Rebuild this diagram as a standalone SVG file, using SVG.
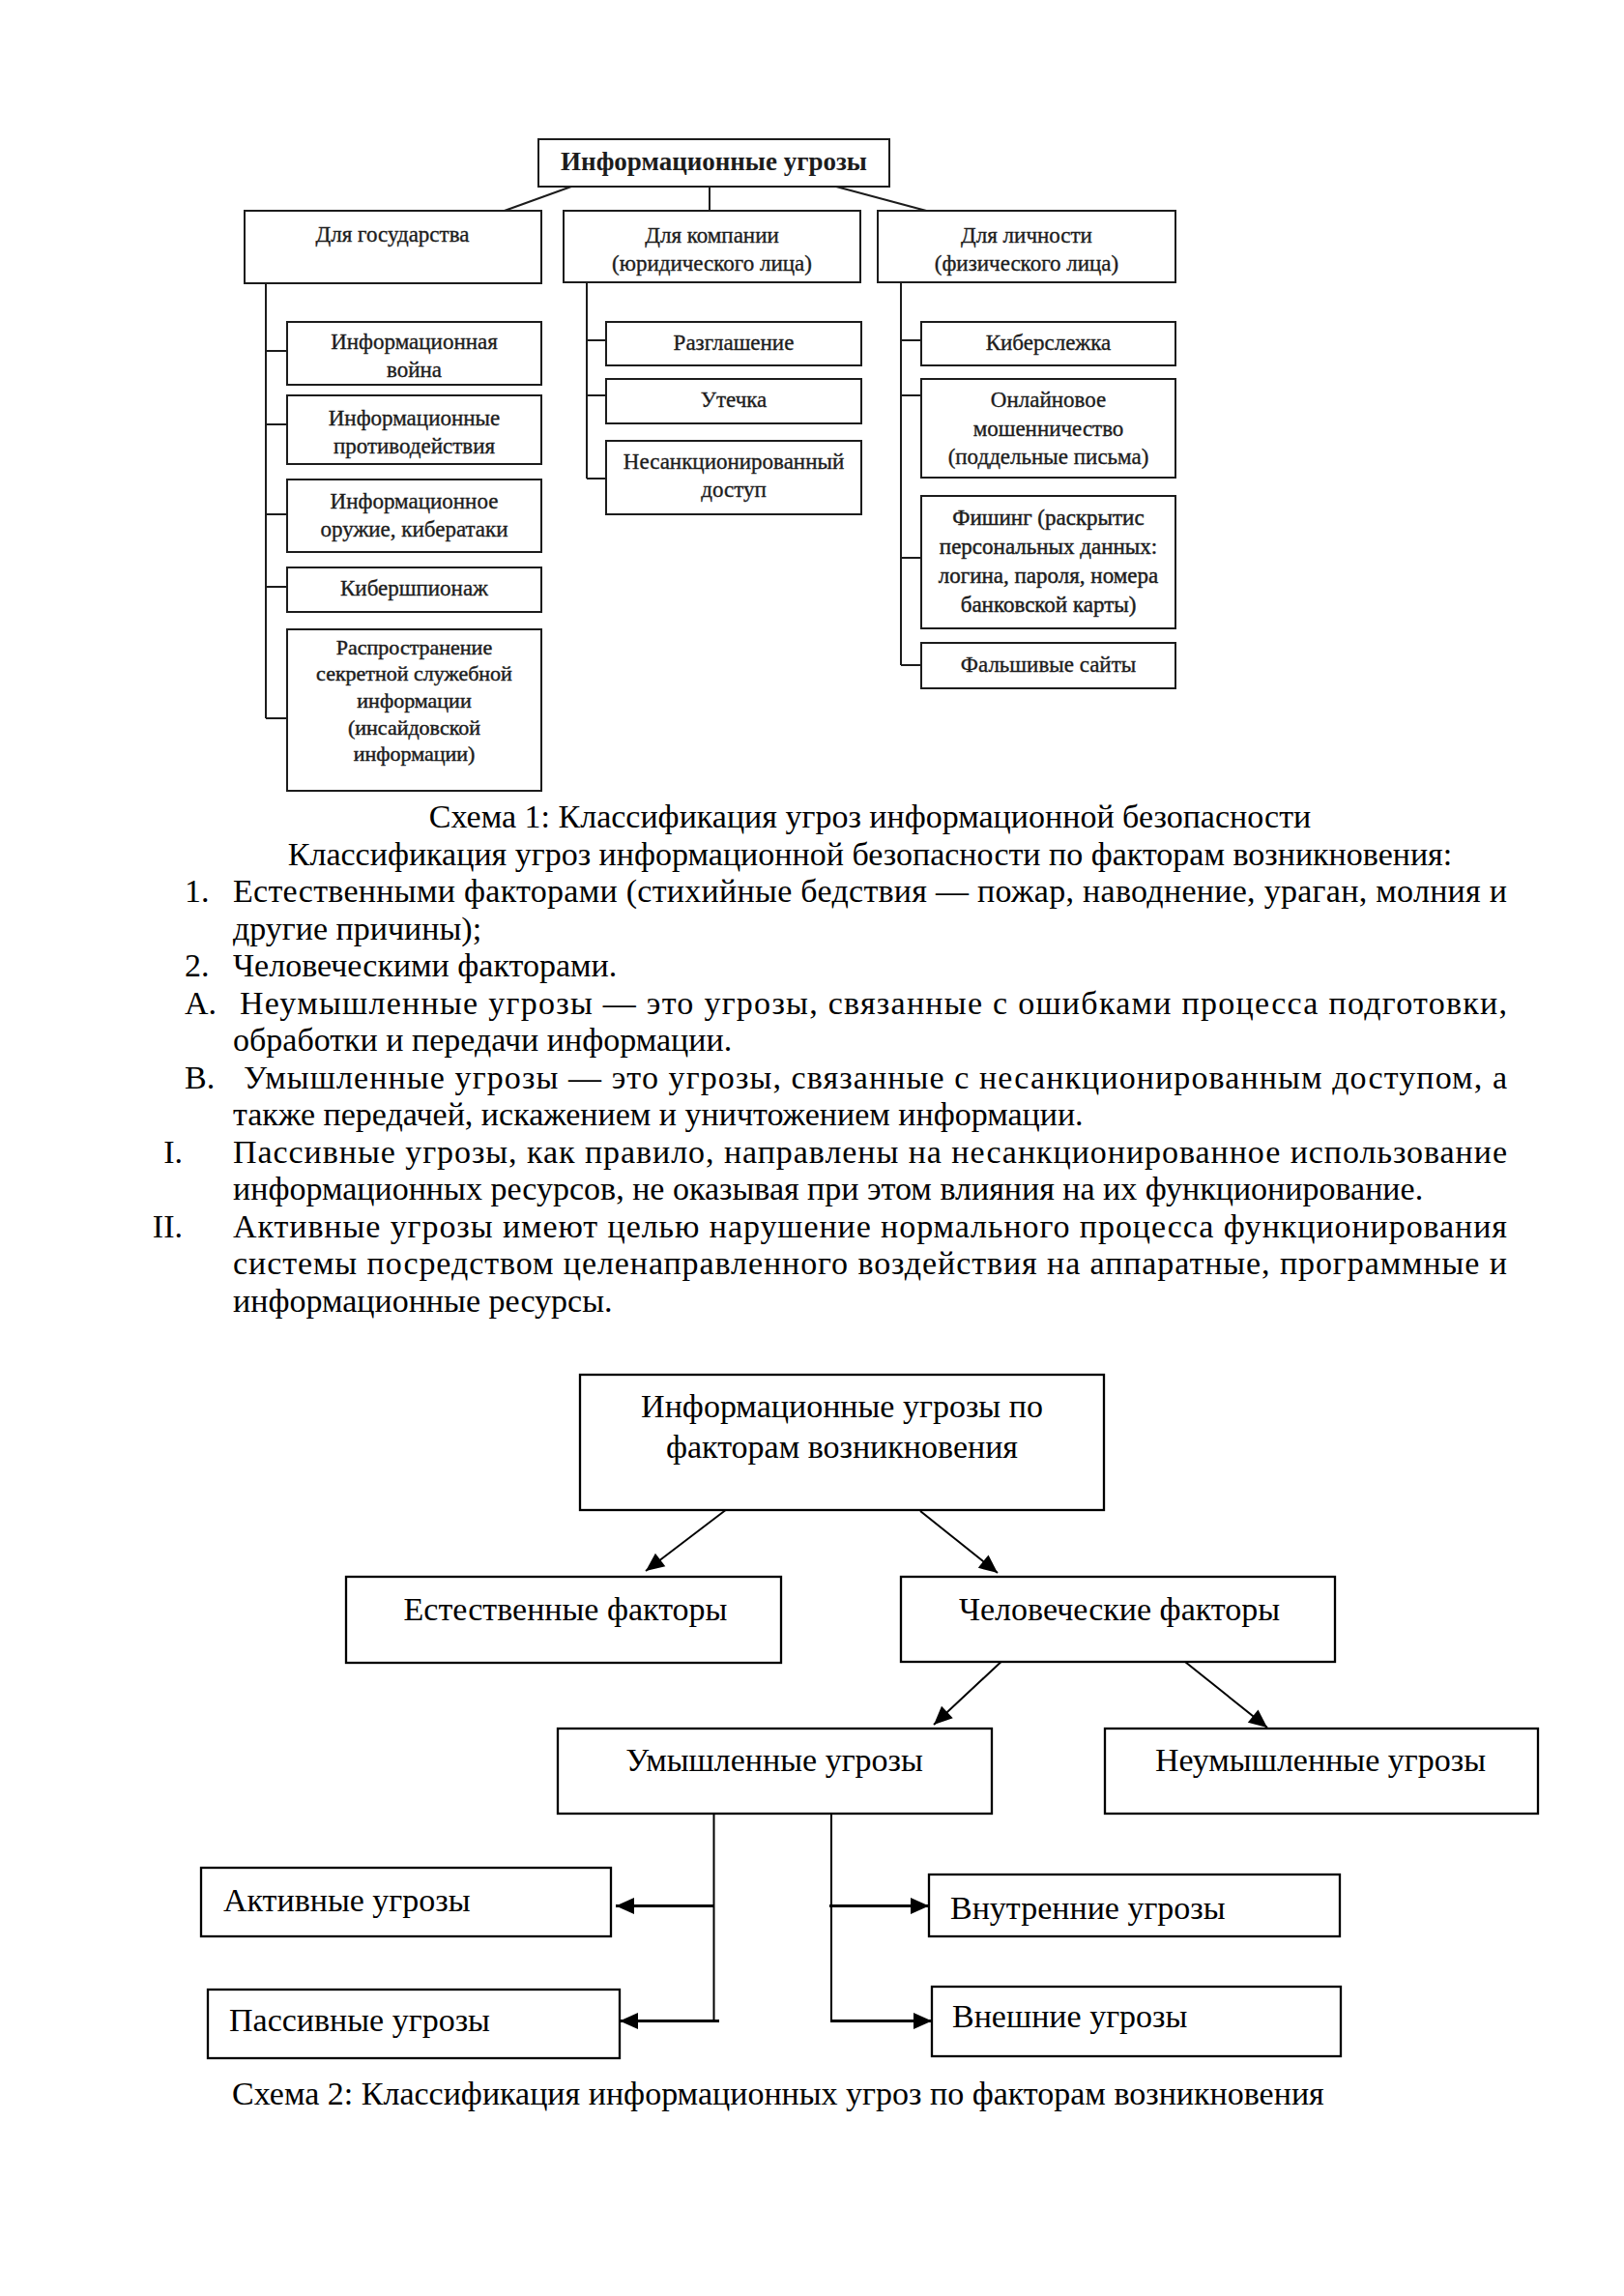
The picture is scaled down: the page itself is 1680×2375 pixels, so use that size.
<svg xmlns="http://www.w3.org/2000/svg" width="1680" height="2375" viewBox="0 0 1680 2375">
<style>
text{font-family:"Liberation Serif","Times New Roman",serif;}
.b1{fill:#fff;stroke:#1c1c1c;stroke-width:2}
.t1{font-size:23px;fill:#1c1c1c;text-anchor:middle;stroke:#1c1c1c;stroke-width:0.35}
.t1s{font-size:22px;fill:#1c1c1c;text-anchor:middle;stroke:#1c1c1c;stroke-width:0.45}
.t1b{font-size:23px;fill:#1c1c1c;text-anchor:middle;stroke:#1c1c1c;stroke-width:0.45}
.c1{stroke:#1c1c1c;stroke-width:2;fill:none}
.b2{fill:#fff;stroke:#000;stroke-width:2.3}
.t2{font-size:34px;fill:#000}
.tm{text-anchor:middle}
.c2{stroke:#000;stroke-width:2;fill:none}
.c2h{stroke:#000;stroke-width:3;fill:none}
.p{font-size:34px;fill:#000}
</style>
<defs>
<marker id="ah" viewBox="0 0 20 20" refX="20" refY="10" markerWidth="20" markerHeight="19" markerUnits="userSpaceOnUse" orient="auto">
<path d="M0,1 L20,10 L0,19 z" fill="#000"/>
</marker>
</defs>
<rect width="1680" height="2375" fill="#fff"/>

<!-- Schema 1 connectors -->
<g id="s1-connectors">
<line class="c1" x1="591" y1="193" x2="519" y2="219"/>
<line class="c1" x1="734" y1="193" x2="734" y2="219"/>
<line class="c1" x1="865" y1="193" x2="962" y2="219"/>
<path class="c1" d="M275,293 V743 M275,363 H297 M275,439 H297 M275,532 H297 M275,607 H297 M275,743 H297"/>
<path class="c1" d="M607,292 V495 M607,352 H628 M607,409 H628 M607,495 H628"/>
<path class="c1" d="M932,292 V688 M932,352 H954 M932,409 H954 M932,577 H954 M932,688 H954"/>
</g>

<g id="s1-root">
<rect class="b1" x="557" y="144" width="363" height="49"/>
<text x="738.5" y="176" font-size="27" font-weight="bold" fill="#1c1c1c" text-anchor="middle">Информационные угрозы</text>
</g>
<g id="s1-state">
<rect class="b1" x="253" y="218" width="307" height="75"/>
<text class="t1" x="406" y="250">Для государства</text>
</g>
<g id="s1-company">
<rect class="b1" x="583" y="218" width="307" height="74"/>
<text class="t1" x="736.5" y="251">Для компании</text>
<text class="t1" x="736.5" y="280">(юридического лица)</text>
</g>
<g id="s1-person">
<rect class="b1" x="908" y="218" width="308" height="74"/>
<text class="t1" x="1062" y="251">Для личности</text>
<text class="t1" x="1062" y="280">(физического лица)</text>
</g>

<g id="s1-war">
<rect class="b1" x="297" y="333" width="263" height="65"/>
<text class="t1" x="428.5" y="361">Информационная</text>
<text class="t1" x="428.5" y="390">война</text>
</g>
<g id="s1-counter">
<rect class="b1" x="297" y="409" width="263" height="71"/>
<text class="t1" x="428.5" y="440">Информационные</text>
<text class="t1" x="428.5" y="469">противодействия</text>
</g>
<g id="s1-weapon">
<rect class="b1" x="297" y="496" width="263" height="75"/>
<text class="t1" x="428.5" y="526">Информационное</text>
<text class="t1" x="428.5" y="555">оружие, кибератаки</text>
</g>
<g id="s1-spy">
<rect class="b1" x="297" y="587" width="263" height="46"/>
<text class="t1" x="428.5" y="616">Кибершпионаж</text>
</g>
<g id="s1-insider">
<rect class="b1" x="297" y="651" width="263" height="167"/>
<text class="t1s" x="428.5" y="677">Распространение</text>
<text class="t1s" x="428.5" y="704">секретной служебной</text>
<text class="t1s" x="428.5" y="732">информации</text>
<text class="t1s" x="428.5" y="760">(инсайдовской</text>
<text class="t1s" x="428.5" y="787">информации)</text>
</g>

<g id="s1-disclosure">
<rect class="b1" x="627" y="333" width="264" height="45"/>
<text class="t1" x="759" y="362">Разглашение</text>
</g>
<g id="s1-leak">
<rect class="b1" x="627" y="392" width="264" height="46"/>
<text class="t1" x="759" y="421">Утечка</text>
</g>
<g id="s1-unauth">
<rect class="b1" x="627" y="456" width="264" height="76"/>
<text class="t1" x="759" y="485">Несанкционированный</text>
<text class="t1" x="759" y="514">доступ</text>
</g>

<g id="s1-stalking">
<rect class="b1" x="953" y="333" width="263" height="45"/>
<text class="t1" x="1084.5" y="362">Киберслежка</text>
</g>
<g id="s1-fraud">
<rect class="b1" x="953" y="392" width="263" height="102"/>
<text class="t1" x="1084.5" y="421">Онлайновое</text>
<text class="t1" x="1084.5" y="451">мошенничество</text>
<text class="t1" x="1084.5" y="480">(поддельные письма)</text>
</g>
<g id="s1-phishing">
<rect class="b1" x="953" y="513" width="263" height="137"/>
<text class="t1b" x="1084.5" y="543">Фишинг (раскрытис</text>
<text class="t1b" x="1084.5" y="573">персональных данных:</text>
<text class="t1b" x="1084.5" y="603">логина, пароля, номера</text>
<text class="t1b" x="1084.5" y="633">банковской карты)</text>
</g>
<g id="s1-fake">
<rect class="b1" x="953" y="665" width="263" height="47"/>
<text class="t1" x="1084.5" y="695">Фальшивые сайты</text>
</g>

<!-- Text body -->
<g id="body-text">
<text class="p" x="900" y="856" text-anchor="middle">Схема 1: Классификация угроз информационной безопасности</text>
<text class="p" x="900" y="894.5" text-anchor="middle">Классификация угроз информационной безопасности по факторам возникновения:</text>
<text class="p" x="191" y="933">1.</text>
<text class="p" x="241" y="933" textLength="1318" lengthAdjust="spacing">Естественными факторами (стихийные бедствия — пожар, наводнение, ураган, молния и</text>
<text class="p" x="241" y="971.5">другие причины);</text>
<text class="p" x="191" y="1010">2.</text>
<text class="p" x="241" y="1010">Человеческими факторами.</text>
<text class="p" x="191" y="1048.5">А.</text>
<text class="p" x="248" y="1048.5" textLength="1311" lengthAdjust="spacing">Неумышленные угрозы — это угрозы, связанные с ошибками процесса подготовки,</text>
<text class="p" x="241" y="1087">обработки и передачи информации.</text>
<text class="p" x="191" y="1125.5">В.</text>
<text class="p" x="252" y="1125.5" textLength="1307" lengthAdjust="spacing">Умышленные угрозы — это угрозы, связанные с несанкционированным доступом, а</text>
<text class="p" x="241" y="1164">также передачей, искажением и уничтожением информации.</text>
<text class="p" x="189" y="1202.5" text-anchor="end">I.</text>
<text class="p" x="241" y="1202.5" textLength="1318" lengthAdjust="spacing">Пассивные угрозы, как правило, направлены на несанкционированное использование</text>
<text class="p" x="241" y="1241">информационных ресурсов, не оказывая при этом влияния на их функционирование.</text>
<text class="p" x="189" y="1279.5" text-anchor="end">II.</text>
<text class="p" x="241" y="1279.5" textLength="1318" lengthAdjust="spacing">Активные угрозы имеют целью нарушение нормального процесса функционирования</text>
<text class="p" x="241" y="1318" textLength="1318" lengthAdjust="spacing">системы посредством целенаправленного воздействия на аппаратные, программные и</text>
<text class="p" x="241" y="1356.5">информационные ресурсы.</text>
</g>

<!-- Schema 2 connectors -->
<g id="s2-connectors">
<line class="c2" x1="752" y1="1561" x2="668" y2="1625" marker-end="url(#ah)"/>
<line class="c2" x1="952" y1="1563" x2="1032" y2="1627" marker-end="url(#ah)"/>
<line class="c2" x1="1042" y1="1713" x2="966" y2="1784" marker-end="url(#ah)"/>
<line class="c2" x1="1226" y1="1719" x2="1311" y2="1787" marker-end="url(#ah)"/>
<line class="c2" x1="738.5" y1="1877" x2="738.5" y2="2091"/>
<line class="c2" x1="860" y1="1877" x2="860" y2="2091"/>
<line class="c2h" x1="738.5" y1="1971.5" x2="637" y2="1971.5" marker-end="url(#ah)"/>
<line class="c2h" x1="744" y1="2090.5" x2="641" y2="2090.5" marker-end="url(#ah)"/>
<line class="c2h" x1="858" y1="1971.5" x2="961" y2="1971.5" marker-end="url(#ah)"/>
<line class="c2h" x1="859" y1="2090.5" x2="964" y2="2090.5" marker-end="url(#ah)"/>
</g>

<g id="s2-root">
<rect class="b2" x="600" y="1422" width="542" height="140"/>
<text class="t2 tm" x="871" y="1466">Информационные угрозы по</text>
<text class="t2 tm" x="871" y="1508">факторам возникновения</text>
</g>
<g id="s2-natural">
<rect class="b2" x="358" y="1631" width="450" height="89"/>
<text class="t2 tm" x="585" y="1676">Естественные факторы</text>
</g>
<g id="s2-human">
<rect class="b2" x="932" y="1631" width="449" height="88"/>
<text class="t2 tm" x="1158" y="1676">Человеческие факторы</text>
</g>
<g id="s2-intentional">
<rect class="b2" x="577" y="1788" width="449" height="88"/>
<text class="t2 tm" x="801" y="1832">Умышленные угрозы</text>
</g>
<g id="s2-unintentional">
<rect class="b2" x="1143" y="1788" width="448" height="88"/>
<text class="t2 tm" x="1366" y="1832">Неумышленные угрозы</text>
</g>
<g id="s2-active">
<rect class="b2" x="208" y="1932" width="424" height="71"/>
<text class="t2" x="231" y="1977">Активные угрозы</text>
</g>
<g id="s2-passive">
<rect class="b2" x="215" y="2058" width="426" height="71"/>
<text class="t2" x="237" y="2101">Пассивные угрозы</text>
</g>
<g id="s2-internal">
<rect class="b2" x="961" y="1939" width="425" height="64"/>
<text class="t2" x="983" y="1985">Внутренние угрозы</text>
</g>
<g id="s2-external">
<rect class="b2" x="964" y="2055" width="423" height="72"/>
<text class="t2" x="985" y="2097">Внешние угрозы</text>
</g>

<text class="p" x="240" y="2177">Схема 2: Классификация информационных угроз по факторам возникновения</text>
</svg>
